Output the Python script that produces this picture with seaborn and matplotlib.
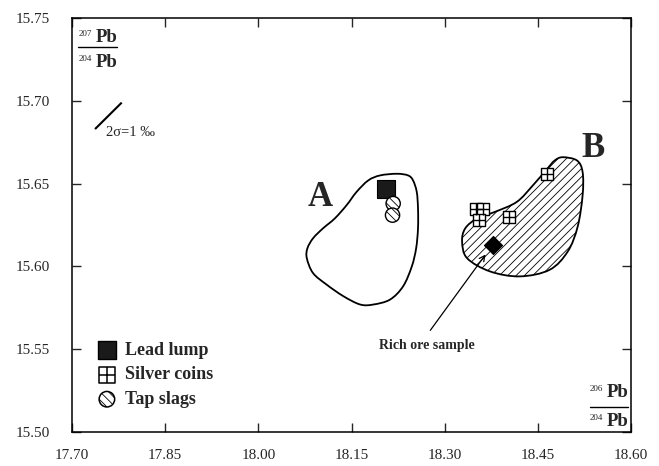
import numpy as np
import matplotlib
matplotlib.use("Agg")
import matplotlib.pyplot as plt
from matplotlib.path import Path
from matplotlib.patches import PathPatch
from matplotlib.legend_handler import HandlerTuple
import seaborn as sns

# 206Pb/204Pb (x) and 207Pb/204Pb (y)
lead_x = [18.205]
lead_y = [15.647]

slag_x = [18.217, 18.216]
slag_y = [15.638, 15.631]

coin_x = [18.351, 18.361, 18.356, 18.403, 18.464]
coin_y = [15.635, 15.635, 15.628, 15.630, 15.656]

ore_x = [18.377]
ore_y = [15.613]

# outlines of the two fields
field_a_x = [18.196, 18.223, 18.241, 18.249, 18.255, 18.257, 18.257, 18.254,
             18.247, 18.233, 18.212, 18.185, 18.164, 18.137, 18.110, 18.088,
             18.078, 18.079, 18.088, 18.104, 18.123, 18.142, 18.158, 18.177]
field_a_y = [15.655, 15.656, 15.655, 15.652, 15.645, 15.635, 15.623, 15.611,
             15.600, 15.588, 15.580, 15.577, 15.577, 15.582, 15.589, 15.596,
             15.605, 15.611, 15.617, 15.623, 15.629, 15.637, 15.645, 15.652]

field_b_x = [18.490, 18.513, 18.522, 18.522, 18.514, 18.498, 18.469, 18.421, 18.373,
             18.336, 18.328, 18.333, 18.352, 18.381, 18.416, 18.442, 18.465, 18.477]
field_b_y = [15.666, 15.664, 15.657, 15.643, 15.624, 15.609, 15.598, 15.594, 15.597,
             15.605, 15.615, 15.623, 15.629, 15.633, 15.639, 15.649, 15.659, 15.664]

# 2 sigma error segment
err_x = [17.737, 17.780]
err_y = [15.683, 15.699]

x_ticks = [17.70, 17.85, 18.00, 18.15, 18.30, 18.45, 18.60]
y_ticks = [15.50, 15.55, 15.60, 15.65, 15.70, 15.75]


def closed_curve(xs, ys):
    # smooth closed outline through the given points (Catmull-Rom as bezier)
    p = np.column_stack([xs, ys])
    prev = np.roll(p, 1, axis=0)
    nxt = np.roll(p, -1, axis=0)
    nxt2 = np.roll(p, -2, axis=0)
    c1 = p + (nxt - prev) / 6
    c2 = nxt - (nxt2 - p) / 6
    verts = [p[0]]
    codes = [Path.MOVETO]
    for i in range(len(p)):
        verts += [c1[i], c2[i], nxt[i]]
        codes += [Path.CURVE4] * 3
    verts.append(p[0])
    codes.append(Path.CLOSEPOLY)
    return Path(verts, codes)


def ratio_label(ax, cx, cy, top, bottom, half_w, num_off, den_off, size=13.5):
    # 2xxPb / 204Pb written as a stacked fraction, centred on (cx, cy) in axes coords
    ax.plot([cx - half_w, cx + half_w], [cy, cy], color="black", lw=1.0,
            transform=ax.transAxes, clip_on=False)
    for mass, dy in [(top, num_off), (bottom, den_off)]:
        ax.annotate("Pb", xy=(cx, cy), xycoords="axes fraction",
                    xytext=(-1.5, dy), textcoords="offset points",
                    fontsize=size, fontweight="bold", ha="left", va="baseline")
        ax.annotate(mass, xy=(cx, cy), xycoords="axes fraction",
                    xytext=(-4.0, dy + 4.5), textcoords="offset points",
                    fontsize=6.5, ha="right", va="baseline")


sns.set_style("ticks")
plt.rcParams["font.family"] = ["Liberation Serif", "DejaVu Serif"]
plt.rcParams["hatch.linewidth"] = 0.6

fig = plt.figure(figsize=(6.59, 4.66), dpi=100)
ax = fig.add_axes([0.1093, 0.073, 0.8483, 0.888])

# fields A and B
ax.add_patch(PathPatch(closed_curve(field_a_x, field_a_y), facecolor="none",
                       edgecolor="black", lw=1.3, zorder=1))
ax.add_patch(PathPatch(closed_curve(field_b_x, field_b_y), facecolor="white",
                       edgecolor="black", lw=1.3, hatch="////", zorder=1))

# samples
sns.scatterplot(x=lead_x, y=lead_y, marker="s", s=160, color="#1a1a1a",
                edgecolor="black", linewidth=0.8, ax=ax, zorder=3)
sns.scatterplot(x=slag_x, y=slag_y, marker="o", s=105, color="white",
                edgecolor="black", linewidth=1.0, hatch="\\\\\\\\", ax=ax, zorder=3)
sns.scatterplot(x=coin_x, y=coin_y, marker="s", s=81, color="white",
                edgecolor="black", linewidth=1.0, ax=ax, zorder=3)
ax.scatter(coin_x, coin_y, marker="+", s=81, color="black", linewidth=1.0, zorder=4)
sns.scatterplot(x=ore_x, y=ore_y, marker="D", s=85, color="black",
                edgecolor="black", linewidth=0.8, ax=ax, zorder=3)

# error bar
ax.plot(err_x, err_y, color="black", lw=1.5, solid_capstyle="butt")
ax.text(17.7545, 15.6812, "2σ=1 ‰", fontsize=10.5, ha="left", va="center")

ax.text(18.099, 15.6365, "A", fontsize=25, fontweight="bold", ha="center", va="baseline")
ax.text(18.5385, 15.666, "B", fontsize=25, fontweight="bold", ha="center", va="baseline")

ax.annotate("Rich ore sample", xy=(ore_x[0], ore_y[0]), xytext=(18.271, 15.550),
            fontsize=10, fontweight="bold", ha="center", va="baseline",
            arrowprops=dict(arrowstyle="->,head_length=0.4,head_width=0.2",
                            color="black", lw=0.9, relpos=(0.47, 1.0),
                            shrinkA=5, shrinkB=8.5))

# isotope ratio labels inside the frame
ratio_label(ax, 0.0456, 0.930, "207", "204", 0.035, 3.5, -14.5)
ratio_label(ax, 0.9606, 0.0604, "206", "204", 0.034, 7.0, -14.0)

# legend
h_lead = ax.scatter([], [], marker="s", s=150, color="#1a1a1a", edgecolor="black")
h_coin_sq = ax.scatter([], [], marker="s", s=120, color="white", edgecolor="black", linewidth=1.1)
h_coin_pl = ax.scatter([], [], marker="+", s=120, color="black", linewidth=1.1)
h_slag = ax.scatter([], [], marker="o", s=125, color="white", edgecolor="black",
                    linewidth=1.1, hatch="\\\\\\\\")
ax.legend([h_lead, (h_coin_sq, h_coin_pl), h_slag],
          ["Lead lump", "Silver coins", "Tap slags"],
          handler_map={tuple: HandlerTuple(ndivide=1)},
          loc="upper left", bbox_to_anchor=(0.043, 0.218), frameon=False,
          borderaxespad=0, borderpad=0, handlelength=1.2, handletextpad=0.4,
          labelspacing=0.42, scatterpoints=1,
          prop={"family": "Liberation Serif", "weight": "bold", "size": 13})

ax.set_xlim(17.70, 18.60)
ax.set_ylim(15.50, 15.75)
ax.set_xticks(x_ticks)
ax.set_yticks(y_ticks)
ax.set_xticklabels([f"{v:.2f}" for v in x_ticks])
ax.set_yticklabels([f"{v:.2f}" for v in y_ticks])
ax.tick_params(axis="both", direction="in", length=6.5, width=1.0,
               top=True, right=True, labelsize=11)
ax.tick_params(axis="x", pad=12.5)
ax.tick_params(axis="y", pad=16)
for sp in ax.spines.values():
    sp.set_linewidth(1.1)
    sp.set_color("black")
ax.set_xlabel("")
ax.set_ylabel("")

fig.savefig("out.png", dpi=100)
